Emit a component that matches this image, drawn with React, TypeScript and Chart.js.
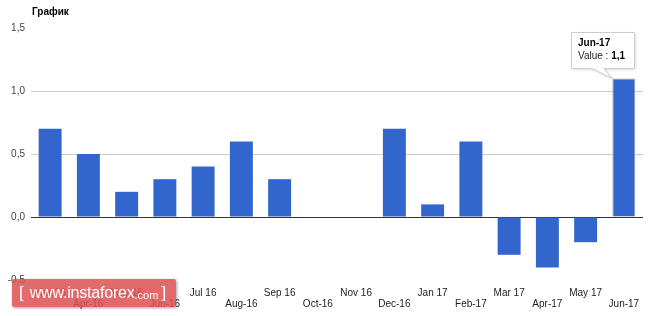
import React, { useEffect, useRef } from "react";
import { Chart, registerables } from "chart.js";

Chart.register(...registerables);

const categories = [
  "Mar 16", "Apr-16", "May 16", "Jun-16", "Jul 16", "Aug-16", "Sep 16", "Oct-16",
  "Nov 16", "Dec-16", "Jan 17", "Feb-17", "Mar 17", "Apr-17", "May 17", "Jun-17",
];
const values = [0.7, 0.5, 0.2, 0.3, 0.4, 0.6, 0.3, 0, 0, 0.7, 0.1, 0.6, -0.3, -0.4, -0.2, 1.1];
const yTicks = [-0.5, 0, 0.5, 1, 1.5];
const tooltipLabel = "Jun-17";
const highlightIndex = 15;
const titleText = "График";

const FONT = "'Liberation Sans', Arial, sans-serif";
const BAR = "#3366cc";

const fmt = (v: number) => v.toFixed(1).replace(".", ",");

const tipPlugin = {
  id: "fixedTip",
  afterDatasetsDraw(chart: any) {
    const el = chart.getDatasetMeta(0).data[highlightIndex];
    if (!el) return;
    const ctx = chart.ctx;
    const bx = el.x;
    const by = el.y;
    const left = Math.round(bx - 53) + 0.5;
    const top = Math.round(by - 46) + 0.5;
    const w = 63;
    const h = 36;
    ctx.save();
    ctx.beginPath();
    ctx.moveTo(left, top);
    ctx.lineTo(left + w, top);
    ctx.lineTo(left + w, top + h);
    ctx.lineTo(bx - 20, top + h);
    ctx.lineTo(bx - 12, by);
    ctx.lineTo(bx - 32, top + h);
    ctx.lineTo(left, top + h);
    ctx.closePath();
    ctx.shadowColor = "rgba(0,0,0,0.18)";
    ctx.shadowBlur = 3;
    ctx.shadowOffsetX = 1;
    ctx.shadowOffsetY = 1;
    ctx.fillStyle = "#fff";
    ctx.fill();
    ctx.shadowColor = "transparent";
    ctx.strokeStyle = "#cccccc";
    ctx.lineWidth = 1;
    ctx.stroke();
    ctx.textBaseline = "middle";
    ctx.textAlign = "left";
    ctx.fillStyle = "#000";
    ctx.font = `bold 10px ${FONT}`;
    ctx.fillText(tooltipLabel, left + 6.5, top + 11);
    ctx.font = `10px ${FONT}`;
    ctx.fillStyle = "#222";
    const pre = "Value : ";
    ctx.fillText(pre, left + 6.5, top + 24);
    const pw = ctx.measureText(pre).width;
    ctx.font = `bold 10px ${FONT}`;
    ctx.fillStyle = "#000";
    ctx.fillText(fmt(values[highlightIndex]), left + 6.5 + pw, top + 24);
    ctx.restore();
  },
};

export default function App() {
  const ref = useRef<HTMLCanvasElement>(null);
  useEffect(() => {
    if (!ref.current) return;
    const chart = new Chart(ref.current, {
      type: "bar",
      data: {
        labels: categories,
        datasets: [
          {
            data: values,
            backgroundColor: BAR,
            borderColor: values.map((_, i) => (i === highlightIndex ? "#9a9a9a" : BAR)),
            borderWidth: values.map((_, i) => (i === highlightIndex ? 1 : 0)),
            barPercentage: 0.6,
            categoryPercentage: 1,
          },
        ],
      },
      options: {
        responsive: false,
        animation: false,
        layout: { padding: { left: 0, right: 20, top: 28, bottom: 0 } },
        plugins: { legend: { display: false }, tooltip: { enabled: false }, title: { display: false } },
        scales: {
          x: {
            grid: { display: false },
            border: { display: false },
            ticks: {
              autoSkip: false,
              maxRotation: 0,
              minRotation: 0,
              padding: 0,
              color: "#222",
              font: { family: FONT, size: 10, lineHeight: 1.1 },
              callback: (_v: any, i: number) => (i % 2 === 0 ? categories[i] : ["", categories[i]]),
            },
            afterFit: (s: any) => {
              s.height = 36;
            },
          },
          y: {
            min: yTicks[0],
            max: yTicks[yTicks.length - 1],
            afterBuildTicks: (s: any) => {
              s.ticks = yTicks.map((v) => ({ value: v }));
            },
            grid: {
              drawTicks: false,
              color: (c: any) =>
                c.tick && c.tick.value === 0
                  ? "#333333"
                  : c.tick && (c.tick.value === 0.5 || c.tick.value === 1)
                  ? "#cccccc"
                  : "rgba(0,0,0,0)",
            },
            border: { display: false },
            ticks: {
              padding: 6,
              color: "#444",
              font: { family: FONT, size: 10 },
              callback: (v: any) => fmt(Number(v)),
            },
            afterFit: (s: any) => {
              s.width = 31;
            },
          },
        },
      },
      plugins: [tipPlugin],
    });
    return () => chart.destroy();
  }, []);

  return (
    <div style={{ position: "absolute", left: 0, top: 0, width: 663, height: 316, background: "#fff", overflow: "hidden" }}>
      <canvas ref={ref} width={663} height={316} style={{ display: "block" }} />
      <div
        style={{
          position: "absolute",
          left: 32,
          top: 5,
          fontFamily: FONT,
          fontWeight: "bold",
          fontSize: 10,
          lineHeight: "14px",
          color: "#000",
        }}
      >
        {titleText}
      </div>
      <div
        style={{
          position: "absolute",
          left: 12,
          top: 279,
          width: 164,
          height: 28,
          background: "rgba(222,82,82,0.86)",
          borderRadius: 2,
          boxShadow: "1px 1px 3px rgba(0,0,0,0.35)",
          color: "#fff",
          fontFamily: FONT,
          display: "flex",
          alignItems: "center",
          whiteSpace: "nowrap",
          boxSizing: "border-box",
          paddingLeft: 7,
        }}
      >
        <span style={{ fontSize: 17 }}>[</span>
        <span style={{ fontSize: 16, marginLeft: 6, letterSpacing: -0.2 }}>www.instaforex</span>
        <span style={{ fontSize: 11, marginTop: 3 }}>.com</span>
        <span style={{ fontSize: 17, marginLeft: 3 }}>]</span>
      </div>
    </div>
  );
}
